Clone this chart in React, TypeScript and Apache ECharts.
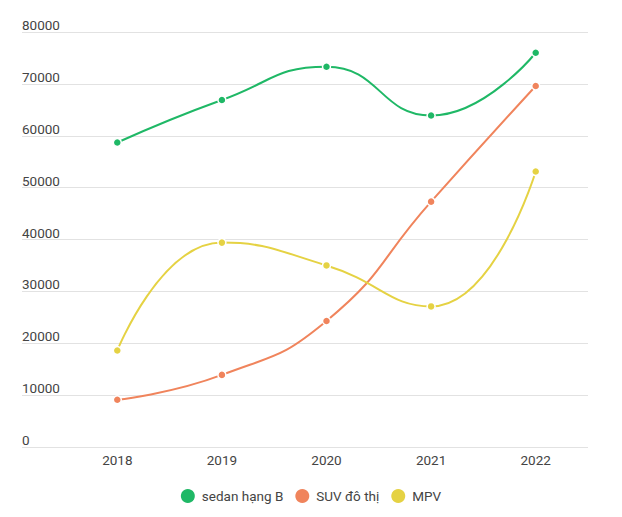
import React, { useEffect, useRef } from "react";
import * as echarts from "echarts";

const years = ["2018", "2019", "2020", "2021", "2022"];
const seriesNames = ["sedan hạng B", "SUV đô thị", "MPV"];
const sedanB = [58700, 66900, 73300, 63900, 76000];
const suv = [9100, 13900, 24300, 47300, 69600];
const mpv = [18600, 39400, 35000, 27100, 53100];
const colors = ["#1fb866", "#f0845c", "#e5d243"];

const FONT = "Roboto, 'Noto Sans', sans-serif";

export default function App() {
  const ref = useRef<HTMLDivElement>(null);
  useEffect(() => {
    if (!ref.current) return;
    const chart = echarts.init(ref.current, null, { renderer: "svg" });
    const values = [sedanB, suv, mpv];
    chart.setOption({
      animation: false,
      textStyle: { fontFamily: FONT },
      color: colors,
      grid: [
        { left: 22, right: 34, top: 32, bottom: 70 },
        { left: 65, right: 34, top: 32, bottom: 70 },
      ],
      xAxis: [
        { type: "category", gridIndex: 0, data: years, show: false },
        {
          type: "category",
          gridIndex: 1,
          data: years,
          boundaryGap: true,
          axisLine: { show: false },
          axisTick: { show: false },
          axisLabel: { color: "#444", fontSize: 13.5, margin: 6, fontFamily: FONT },
        },
      ],
      yAxis: [
        {
          type: "value",
          gridIndex: 0,
          min: 0,
          max: 80000,
          interval: 10000,
          axisLine: { show: false },
          axisTick: { show: false },
          axisLabel: {
            inside: true,
            margin: 0,
            verticalAlign: "bottom",
            color: "#444",
            fontSize: 13.5,
            fontFamily: FONT,
            formatter: (v: number) => String(v),
          },
          splitLine: { lineStyle: { color: "#e2e2e2", width: 1 } },
        },
        {
          type: "value",
          gridIndex: 1,
          min: 0,
          max: 80000,
          interval: 10000,
          show: false,
          splitLine: { show: false },
        },
      ],
      legend: {
        bottom: 9,
        left: "center",
        icon: "circle",
        itemWidth: 18,
        itemHeight: 14,
        itemGap: 12,
        itemStyle: { borderWidth: 0 },
        textStyle: { color: "#444", fontSize: 13.5, fontFamily: FONT },
        data: seriesNames,
      },
      series: seriesNames.map((name, i) => ({
        name,
        type: "line",
        xAxisIndex: 1,
        yAxisIndex: 1,
        data: values[i],
        smooth: true,
        symbol: "circle",
        symbolSize: 8,
        lineStyle: { width: 2, color: colors[i] },
        itemStyle: { color: colors[i], borderColor: "#fff", borderWidth: 1.5 },
      })),
    });
    return () => chart.dispose();
  }, []);
  return <div ref={ref} style={{ width: 622, height: 517, position: "absolute", left: 0, top: 0 }} />;
}
